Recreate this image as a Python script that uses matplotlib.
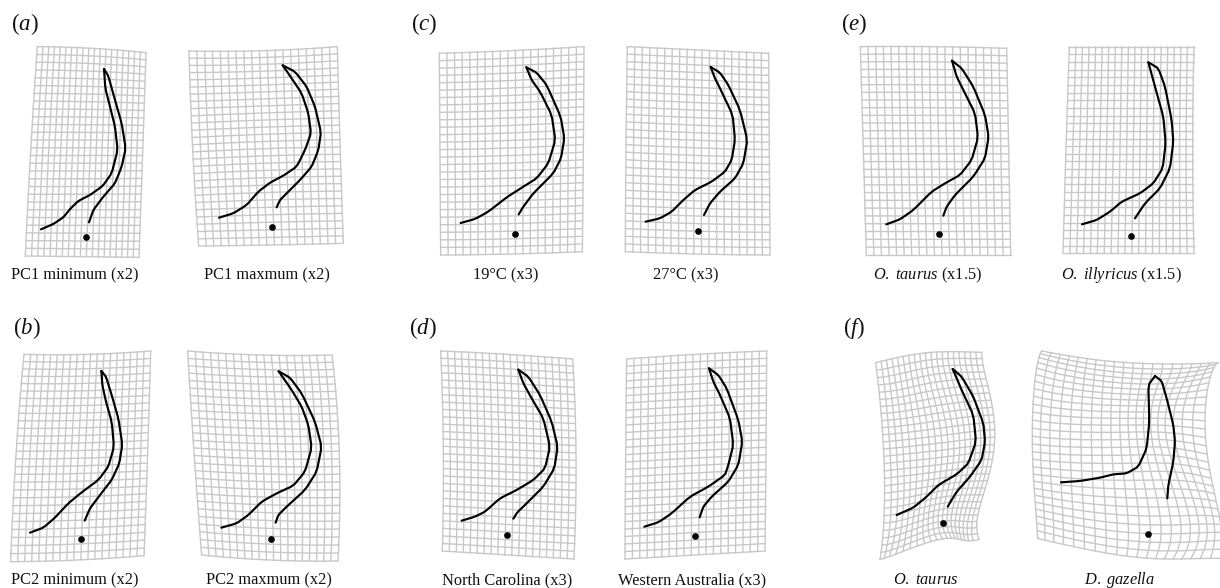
import numpy as np
import matplotlib
matplotlib.use("Agg")
import matplotlib.pyplot as plt

plt.rcParams['font.family'] = ['Liberation Serif', 'DejaVu Serif']
plt.rcParams['mathtext.fontset'] = 'custom'
plt.rcParams['mathtext.rm'] = 'Liberation Serif'
plt.rcParams['mathtext.it'] = 'Liberation Serif:italic'
plt.rcParams['mathtext.bf'] = 'Liberation Serif:bold'

# Deformation-grid control nodes (rows top to bottom, each row left to right)
A1_MESH = [[(112,140),(275,145),(438,158)], [(92,455),(262,455),(428,455)], [(76,768),(250,770),(417,772)]]
A2_MESH = [[(567,153),(790,152),(1012,140)], [(578,445),(800,435),(1020,430)], [(596,738),(812,735),(1030,730)]]
B1_MESH = [[(72,178),(262,178),(452,168)], [(48,480),(245,478),(443,470)], [(32,800),(232,795),(432,782)]]
B2_MESH = [[(563,168),(780,180),(996,180)], [(582,470),(800,480),(1018,480)], [(605,780),(810,795),(1014,798)]]
C1_MESH = [[(118,160),(335,152),(552,140)], [(120,460),(335,455),(550,445)], [(122,765),(335,762),(547,755)]]
C2_MESH = [[(682,140),(895,150),(1106,160)], [(678,445),(893,455),(1108,460)], [(676,755),(893,762),(1110,765)]]
D1_MESH = [[(122,168),(320,178),(518,192)], [(130,465),(328,475),(528,485)], [(127,768),(325,780),(522,792)]]
D2_MESH = [[(680,192),(890,178),(1100,168)], [(677,490),(887,478),(1098,468)], [(675,792),(885,780),(1095,768)]]
E1_MESH = [[(121,140),(340,140),(560,145)], [(130,450),(345,450),(566,450)], [(139,765),(355,765),(572,765)]]
E2_MESH = [[(748,140),(935,140),(1122,140)], [(738,450),(930,450),(1118,450)], [(729,760),(925,760),(1122,760)]]
# panel (f) nodes are read on their own tighter crops
F1_MESH = [[(17,68),(95,50),(175,38),(255,35),(335,37)],
           [(33,215),(120,205),(205,190),(285,180),(362,175)],
           [(42,360),(135,350),(225,340),(305,330),(372,325)],
           [(43,510),(130,495),(205,478),(275,470),(338,470)],
           [(30,658),(115,628),(210,598),(268,598),(327,598)]]
F2_MESH = [[(50,33),(180,55),(310,68),(450,72),(580,68)],
           [(28,140),(165,165),(300,175),(415,175),(545,165)],
           [(22,300),(160,310),(300,310),(410,310),(545,330)],
           [(28,450),(165,470),(320,480),(460,480),(575,490)],
           [(38,595),(170,625),(320,650),(450,657),(590,655)]]

# Horn outlines
A1_HORN = [(123,688),(160,672),(190,652),(212,625),(235,603),(270,585),(308,558),(335,520),(353,450),(345,380),(330,320),(316,265),(312,207),(325,228),(345,300),(365,370),(377,445),(365,500),(345,550),(310,590),(280,630),(267,667)]
A2_HORN = [(657,653),(700,640),(740,615),(775,575),(810,548),(850,527),(890,500),(915,450),(933,400),(925,340),(905,280),(875,235),(848,196),(885,215),(920,260),(945,320),(963,397),(955,450),(935,500),(900,540),(860,580),(840,600),(830,622)]
B1_HORN = [(90,713),(130,698),(165,668),(205,625),(245,592),(295,555),(325,515),(342,455),(335,380),(318,320),(307,270),(304,228),(318,245),(335,300),(355,370),(367,448),(358,505),(335,555),(300,600),(270,640),(254,677)]
B2_HORN = [(664,698),(710,685),(745,660),(785,620),(830,595),(880,572),(915,530),(935,458),(925,390),(905,335),(875,285),(836,229),(870,248),(905,295),(945,380),(965,455),(950,530),(915,585),(860,635),(835,660),(827,683)]
C1_HORN = [(182,669),(225,657),(265,635),(320,592),(370,560),(410,535),(445,490),(466,420),(455,345),(420,275),(395,240),(379,202),(410,218),(440,255),(482,350),(493,415),(483,475),(460,520),(400,580),(370,620),(356,643)]
C2_HORN = [(737,665),(780,655),(815,635),(850,600),(885,570),(935,545),(975,515),(995,480),(1005,420),(998,345),(960,265),(945,235),(932,201),(960,218),(985,255),(1020,330),(1042,420),(1030,490),(1005,535),(960,575),(930,610),(912,645)]
D1_HORN = [(185,677),(225,665),(255,650),(300,610),(350,585),(400,555),(435,520),(450,455),(430,370),(395,310),(370,265),(355,224),(385,245),(420,300),(455,380),(473,455),(463,520),(430,575),(380,625),(352,652),(340,671)]
D2_HORN = [(733,695),(775,682),(815,655),(870,605),(925,575),(975,540),(985,510),(1000,450),(990,370),(960,300),(940,260),(927,220),(955,240),(980,280),(1015,375),(1027,440),(1015,510),(985,560),(935,605),(910,635),(899,667)]
E1_HORN = [(199,673),(240,658),(280,630),(335,575),(375,550),(420,525),(455,480),(474,413),(465,340),(430,270),(410,230),(396,182),(425,205),(460,260),(495,345),(506,410),(495,475),(460,530),(405,585),(380,620),(370,647)]
E2_HORN = [(786,673),(830,660),(870,635),(905,605),(960,580),(1000,550),(1028,505),(1037,430),(1030,350),(1005,260),(985,187),(1015,205),(1035,260),(1055,360),(1060,425),(1050,505),(1020,565),(975,610),(945,655)]
F1_HORN = [(230,660),(280,638),(320,605),(355,570),(410,538),(445,505),(468,440),(460,360),(425,285),(410,250),(398,222),(425,245),(460,305),(490,385),(495,440),(485,495),(450,545),(410,590),(383,635)]
F2_HORN = [(723,562),(780,558),(840,548),(880,538),(920,535),(955,515),(980,460),(988,380),(985,270),(1005,243),(1025,258),(1040,310),(1060,390),(1065,440),(1060,500),(1045,570),(1042,610)]

# Landmark dots
A1_DOT = (259,712); A2_DOT = (815,680)
B1_DOT = (243,732); B2_DOT = (812,732)
C1_DOT = (345,701); C2_DOT = (895,694)
D1_DOT = (321,719); D2_DOT = (886,723)
E1_DOT = (356,701); E2_DOT = (932,707)
F1_DOT = (370,684); F2_DOT = (983,717)

PANEL_LETTERS = ['a', 'b', 'c', 'd', 'e', 'f']
CAPTIONS = ['PC1 minimum (x2)', 'PC1 maxmum (x2)', 'PC2 minimum (x2)', 'PC2 maxmum (x2)',
            '19°C (x3)', '27°C (x3)', 'North Carolina (x3)', 'Western Australia (x3)',
            r'$\mathit{O.\ taurus}$ (x1.5)', r'$\mathit{O.\ illyricus}$ (x1.5)',
            r'$\mathit{O.\ taurus}$', r'$\mathit{D.\ gazella}$']

# ---- layout -----
LETTER_POS = [(11, 24), (12.7, 328), (411, 24), (409, 328), (840.7, 24), (842.7, 328)]
CAPTION_POS = [(75, 275), (267, 275), (74.5, 580), (268.7, 580), (505.8, 275), (686, 275),
               (507.3, 580), (692, 580), (928, 275), (1121.7, 275), (925.5, 580), (1120, 580)]
CROP = {'a': (0, 0), 'b': (0, 295), 'c': (400, 0), 'd': (400, 295), 'e': (820, 0), 'f': (820, 295)}
COLS, ROWS = 19, 27
GRID_COLOR = '#c8c8c8'


def to_px(pts, origin, scale=3.0):
    a = np.asarray(pts, float)
    return a / scale + np.asarray(origin, float)


def lagrange(nodes, t):
    out = np.ones((len(nodes), len(t)))
    for i, ni in enumerate(nodes):
        for j, nj in enumerate(nodes):
            if i != j:
                out[i] *= (t - nj) / (ni - nj)
    return out


def warp(mesh, u, v):
    """Evaluate the control mesh at parameters u (across) and v (down)."""
    r, c = mesh.shape[:2]
    bu = lagrange(np.linspace(0, 1, c), u)
    bv = lagrange(np.linspace(0, 1, r), v)
    return np.einsum('ri,cj,rcd->ijd', bv, bu, mesh)


def draw_grid(ax, mesh):
    fine = np.linspace(0, 1, 120)
    for i in np.arange(ROWS + 1) / ROWS:
        p = warp(mesh, fine, np.array([i]))[0]
        ax.plot(p[:, 0], p[:, 1], color=GRID_COLOR, lw=1.0, zorder=1)
    for j in np.arange(COLS + 1) / COLS:
        p = warp(mesh, np.array([j]), fine)[:, 0]
        ax.plot(p[:, 0], p[:, 1], color=GRID_COLOR, lw=1.0, zorder=1)


def rounded(p):
    """A light corner-rounding pass that keeps the two end points of the stroke."""
    mid_a = 0.86 * p[:-1] + 0.14 * p[1:]
    mid_b = 0.14 * p[:-1] + 0.86 * p[1:]
    body = np.empty((2 * len(mid_a), 2))
    body[0::2] = mid_a
    body[1::2] = mid_b
    return np.vstack([p[0], body[1:-1], p[-1]])


def draw_specimen(ax, mesh, horn, dot, crop, mesh_origin=None):
    draw_grid(ax, to_px(mesh, mesh_origin if mesh_origin else crop))
    h = to_px(horn, crop)
    tip = int(np.argmin(h[:, 1]))
    for part in (h[:tip + 1], h[tip:]):
        s = rounded(part)
        ax.plot(s[:, 0], s[:, 1], color='black', lw=1.55, solid_joinstyle='round',
                solid_capstyle='round', zorder=3)
    d = to_px([dot], crop)
    ax.plot(d[:, 0], d[:, 1], 'o', color='black', ms=4.8, mew=0, zorder=4)


fig = plt.figure(figsize=(12.2, 5.88), dpi=100)
ax = fig.add_axes([0, 0, 1, 1])
ax.set_xlim(0, 1220)
ax.set_ylim(588, 0)
ax.axis('off')

draw_specimen(ax, A1_MESH, A1_HORN, A1_DOT, CROP['a'])
draw_specimen(ax, A2_MESH, A2_HORN, A2_DOT, CROP['a'])
draw_specimen(ax, B1_MESH, B1_HORN, B1_DOT, CROP['b'])
draw_specimen(ax, B2_MESH, B2_HORN, B2_DOT, CROP['b'])
draw_specimen(ax, C1_MESH, C1_HORN, C1_DOT, CROP['c'])
draw_specimen(ax, C2_MESH, C2_HORN, C2_DOT, CROP['c'])
draw_specimen(ax, D1_MESH, D1_HORN, D1_DOT, CROP['d'])
draw_specimen(ax, D2_MESH, D2_HORN, D2_DOT, CROP['d'])
draw_specimen(ax, E1_MESH, E1_HORN, E1_DOT, CROP['e'])
draw_specimen(ax, E2_MESH, E2_HORN, E2_DOT, CROP['e'])
draw_specimen(ax, F1_MESH, F1_HORN, F1_DOT, CROP['f'], mesh_origin=(870, 340))
draw_specimen(ax, F2_MESH, F2_HORN, F2_DOT, CROP['f'], mesh_origin=(1025, 340))

for letter, (x, y) in zip(PANEL_LETTERS, LETTER_POS):
    ax.text(x, y, rf'$(\mathit{{{letter}}})$', fontsize=16.5, ha='left', va='center', color='#111111')
for cap, (x, y) in zip(CAPTIONS, CAPTION_POS):
    ax.text(x, y, cap, fontsize=11.8, ha='center', va='center', color='#111111')

fig.savefig('out.png', dpi=100)
